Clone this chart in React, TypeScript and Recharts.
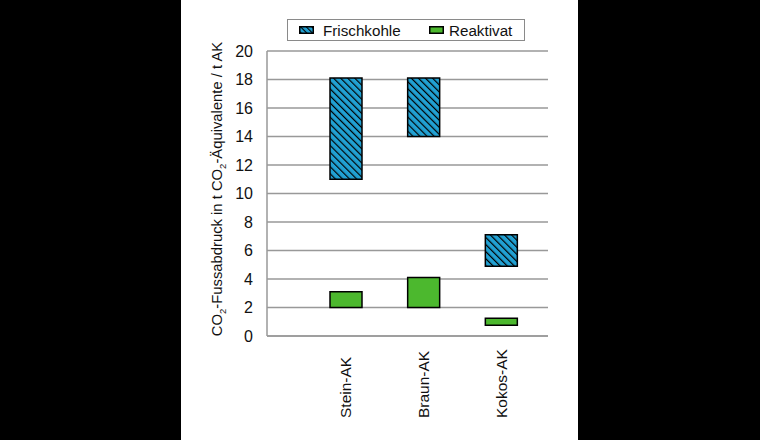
import React from 'react'
import { BarChart, Bar, XAxis, YAxis, CartesianGrid } from 'recharts'

const categories = ['Stein-AK', 'Braun-AK', 'Kokos-AK']
const freshLow = [11.0, 14.0, 4.9]
const freshHigh = [18.1, 18.1, 7.1]
const reactLow = [2.0, 2.0, 0.75]
const reactHigh = [3.1, 4.1, 1.25]
const yTicks = [0, 2, 4, 6, 8, 10, 12, 14, 16, 18, 20]
const seriesNames = ['Frischkohle', 'Reaktivat']

const BLUE = '#21a1d3'
const GREEN = '#4cb82e'
const GRID = '#999999'
const FONT = '"Liberation Sans", Arial, sans-serif'

const data = categories.map((name, i) => ({
  name,
  fresh: [freshLow[i], freshHigh[i]],
  react: [reactLow[i], reactHigh[i]],
}))

const XTick = ({ x, payload }: any) => {
  const baseY = 418
  return (
    <text
      x={x}
      y={baseY}
      transform={`rotate(-90, ${x}, ${baseY})`}
      textAnchor='start'
      dy='0.36em'
      fontSize={15.5}
      fontFamily={FONT}
      fill='#111'>
      {payload.value}
    </text>
  )
}

// rotated y axis title with subscript 2s
const YTitle = () => {
  const cx = 217
  const cy = 189
  return (
    <text
      x={cx}
      y={cy}
      transform={`rotate(-90, ${cx}, ${cy})`}
      textAnchor='middle'
      dy='0.36em'
      fontSize={14.8}
      fontFamily={FONT}
      fill='#111'>
      <tspan>CO</tspan>
      <tspan dy={4} fontSize={9.5}>2</tspan>
      <tspan dy={-4}>-Fussabdruck in t CO</tspan>
      <tspan dy={4} fontSize={9.5}>2</tspan>
      <tspan dy={-4}>-Äquivalente / t AK</tspan>
    </text>
  )
}

const LegendBox = () => (
  <div
    style={{
      position: 'absolute',
      left: 287,
      top: 19,
      width: 236,
      height: 20,
      border: '1px solid #8a8a8a',
      background: '#fff',
      fontFamily: FONT,
      fontSize: 15.2,
      color: '#111',
    }}>
    {seriesNames.map((n, i) => (
      <div
        key={n}
        style={{
          position: 'absolute',
          left: i === 0 ? 11 : 141,
          top: 0,
          height: 20,
          display: 'flex',
          alignItems: 'center',
        }}>
        <svg width={15} height={8} style={{ marginRight: i === 0 ? 9 : 5 }}>
          <rect
            x={0.75}
            y={0.75}
            width={13.5}
            height={6.5}
            fill={i === 0 ? 'url(#hatchLegend)' : GREEN}
            stroke='#000'
            strokeWidth={1.5}
          />
        </svg>
        <span>{n}</span>
      </div>
    ))}
  </div>
)

export default function App() {
  return (
    <div style={{ position: 'absolute', left: 0, top: 0, width: 760, height: 440, background: '#000' }}>
      <svg width={0} height={0} style={{ position: 'absolute' }}>
        <defs>
          <pattern id='hatchLegend' patternUnits='userSpaceOnUse' width={4} height={4} patternTransform='rotate(-45)'>
            <rect width={4} height={4} fill={BLUE} />
            <line x1={0} y1={0} x2={0} y2={4} stroke='#000' strokeWidth={2.2} />
          </pattern>
        </defs>
      </svg>
      <div style={{ position: 'absolute', left: 181, top: 0, width: 397, height: 440, background: '#fff' }} />
      <div style={{ position: 'absolute', left: 0, top: 0 }}>
        <BarChart
          width={760}
          height={440}
          data={data}
          barSize={32}
          barGap={-32}
          margin={{ top: 51, right: 212, bottom: 14, left: 207 }}>
          <defs>
            <pattern id='hatch' patternUnits='userSpaceOnUse' width={5} height={5} patternTransform='rotate(-45)'>
              <rect width={5} height={5} fill={BLUE} />
              <line x1={0} y1={0} x2={0} y2={5} stroke='#000' strokeWidth={2.4} />
            </pattern>
          </defs>
          <CartesianGrid vertical={false} stroke={GRID} strokeWidth={1.5} />
          <XAxis
            dataKey='name'
            height={90}
            padding={{ left: 40, right: 8 }}
            tickLine={false}
            axisLine={{ stroke: GRID, strokeWidth: 1.5 }}
            tick={<XTick />}
            interval={0}
          />
          <YAxis
            width={60}
            domain={[0, 20]}
            ticks={yTicks}
            tickLine={false}
            tickSize={0}
            tickMargin={14}
            axisLine={{ stroke: GRID, strokeWidth: 1.5 }}
            tick={{ fontSize: 16, fontFamily: FONT, fill: '#111' }}
          />
          <YAxis
            yAxisId='right'
            orientation='right'
            width={0}
            domain={[0, 20]}
            tick={false}
            tickLine={false}
            axisLine={{ stroke: GRID, strokeWidth: 1.5 }}
          />
          <Bar dataKey='fresh' name={seriesNames[0]} fill='url(#hatch)' stroke='#000' strokeWidth={1.5} isAnimationActive={false} />
          <Bar dataKey='react' name={seriesNames[1]} fill={GREEN} stroke='#000' strokeWidth={1.5} isAnimationActive={false} />
        </BarChart>
        <svg width={760} height={440} style={{ position: 'absolute', left: 0, top: 0, pointerEvents: 'none' }}>
          <YTitle />
        </svg>
      </div>
      <LegendBox />
    </div>
  )
}
